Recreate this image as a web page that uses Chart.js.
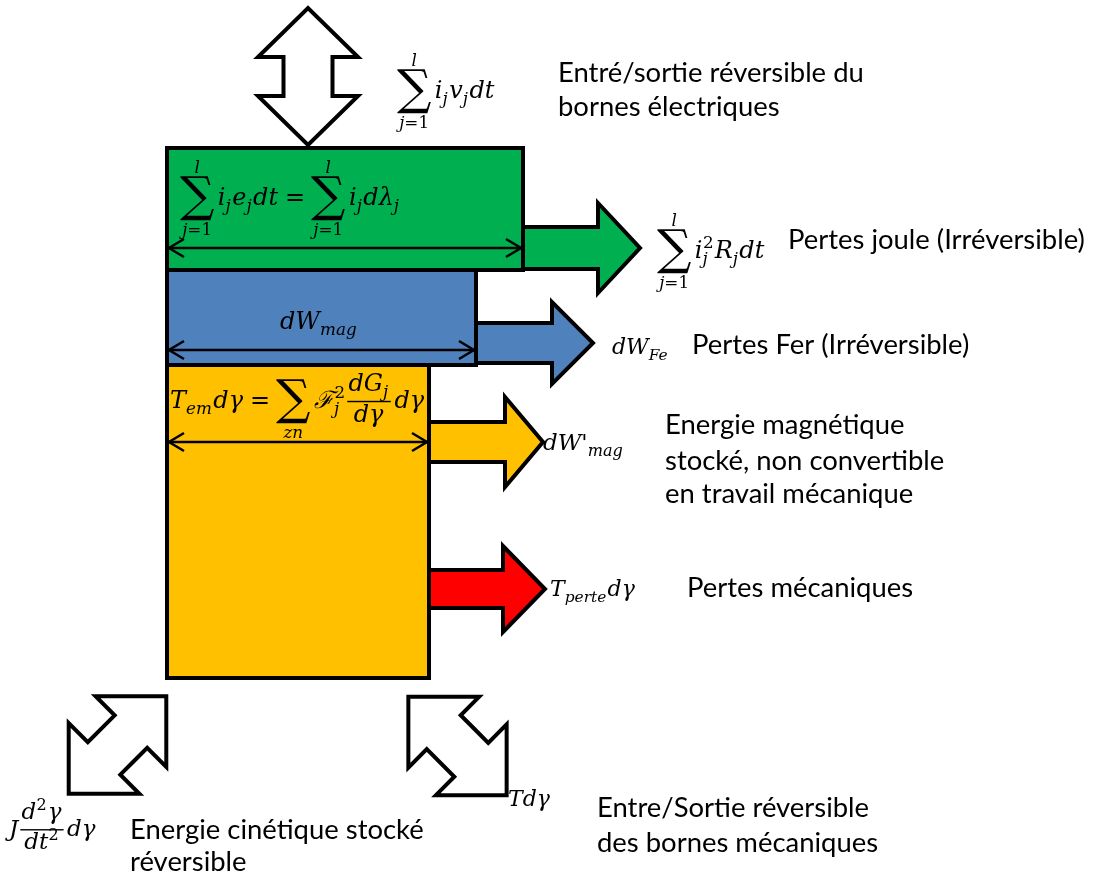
<!DOCTYPE html>
<html><head><meta charset="utf-8">
<script src="https://cdn.jsdelivr.net/npm/chart.js@4/dist/chart.umd.min.js"></script>
<style>html,body{margin:0;padding:0;background:#fff;overflow:hidden}canvas{display:block}</style>
</head><body>
<canvas id="c" width="1100" height="874" style="width:1100px;height:874px"></canvas>
<script>
// ---------- data (diagram units) ----------
const boxNames   = ['Pertes joule', 'Energie magnétique', 'Energie mécanique'];
const boxLeft    = [167, 167, 167];
const boxRight   = [523, 476, 429];
const boxTop     = [148, 270, 365];
const boxBottom  = [270, 365, 678];
const dimLineY   = [248, 350, 442];

const flowNames     = ['joule', 'fer', 'magnétique stockée', 'mécanique'];
const flowStart     = [523, 476, 429, 429];
const flowTip       = [640, 593, 543, 545];
const flowY         = [248, 343, 442, 589];
const flowShaftHalf = [21, 20, 20, 19];
const flowHeadHalf  = [45, 41, 45, 43];
const flowHeadLen   = [42, 41, 38, 42];

const portNames     = ['électrique', 'cinétique', 'mécanique'];
const portCx        = [308, 117.5, 457.5];
const portCy        = [76.5, 745, 746];
const portAngle     = [90, 45, 135];
const portHalfLen   = [68.5, 69, 69.5];
const portShaftHalf = [24.5, 23, 24];
const portHeadHalf  = [50, 50, 50];
const portHeadLen   = [49, 50, 50];

const descLines = [
  ['Entré/sortie réversible du', 'bornes électriques'],
  ['Pertes joule (Irréversible)'],
  ['Pertes Fer (Irréversible)'],
  ['Energie magnétique', 'stocké, non convertible', 'en travail mécanique'],
  ['Pertes mécaniques'],
  ['Entre/Sortie réversible', 'des bornes mécaniques'],
  ['Energie cinétique stocké', 'réversible']
];

const formulaTop   = [{sum:1, over:'l', under:'j=1'}, {b:'i', sub:'j'}, {b:'v', sub:'j'}, {b:'dt'}];
const formulaGreen = [{sum:1, over:'l', under:'j=1'}, {b:'i', sub:'j'}, {b:'e', sub:'j'}, {b:'dt'}, {op:'='},
                      {sum:1, over:'l', under:'j=1'}, {b:'i', sub:'j'}, {b:'dλ', sub:'j'}];
const formulaJoule = [{sum:1, over:'l', under:'j=1'}, {b:'i', sub:'j', sup:'2'}, {b:'R', sub:'j'}, {b:'dt'}];
const formulaMag   = [{b:'dW', sub:'mag'}];
const formulaFe    = [{b:'dW', sub:'Fe'}];
const formulaEm    = [{b:'T', sub:'em'}, {b:'dγ'}, {op:'='}, {sum:1, under:'zn'}, {b:'ℱ', sub:'j', sup:'2'},
                      {frac:[[{b:'dG', sub:'j'}], [{b:'dγ'}]]}, {b:'dγ'}];
const formulaMagP  = [{b:"dW'", sub:'mag'}];
const formulaPerte = [{b:'T', sub:'perte'}, {b:'dγ'}];
const formulaT     = [{b:'Tdγ'}];
const formulaJ     = [{b:'J'}, {frac:[[{b:'d', sup:'2'}, {b:'γ'}], [{b:'dt', sup:'2'}]]}, {b:'dγ'}];

// ---------- layout / style ----------
const boxColors  = ['#00B050', '#4F81BD', '#FFC000'];
const flowColors = ['#00B050', '#4F81BD', '#FFC000', '#FF0000'];
const descPos = [
  [[558, 73], [558, 107]],
  [[788, 240]],
  [[692, 345]],
  [[665, 425], [665, 461], [665, 494]],
  [[687, 588]],
  [[597, 808], [597, 843]],
  [[130, 830], [130, 862]]
];
const formulaPlace = [
  {f: formulaTop,   x: 397, y: 98,  size: 24},
  {f: formulaGreen, x: 180, y: 205, size: 24},
  {f: formulaJoule, x: 657, y: 258, size: 24},
  {f: formulaMag,   x: 319, y: 329, size: 24, center: true},
  {f: formulaFe,    x: 612, y: 354, size: 22},
  {f: formulaEm,    x: 170, y: 408, size: 24},
  {f: formulaMagP,  x: 543, y: 450, size: 23},
  {f: formulaPerte, x: 550, y: 596, size: 22},
  {f: formulaT,     x: 508, y: 806, size: 22},
  {f: formulaJ,     x: 9,   y: 836, size: 23}
];

// ---------- geometry builders ----------
function boxPoly(i) {
  const l = boxLeft[i], r = boxRight[i], t = boxTop[i], b = boxBottom[i], m = (t + b) / 2;
  return [{x:l,y:m},{x:l,y:t},{x:r,y:t},{x:r,y:b},{x:l,y:b},{x:l,y:m}];
}
function flowPoly(i) {
  const x0 = flowStart[i], xt = flowTip[i], y = flowY[i], s = flowShaftHalf[i], h = flowHeadHalf[i], hb = xt - flowHeadLen[i];
  return [{x:x0,y:y},{x:x0,y:y-s},{x:hb,y:y-s},{x:hb,y:y-h},{x:xt,y:y},{x:hb,y:y+h},{x:hb,y:y+s},{x:x0,y:y+s},{x:x0,y:y}];
}
function portPoly(i) {
  const a = portAngle[i] * Math.PI / 180;
  const u = {x: Math.cos(a), y: -Math.sin(a)}, v = {x: -u.y, y: u.x};
  const L = portHalfLen[i], H = portHeadLen[i], s = portShaftHalf[i], h = portHeadHalf[i], B = L - H;
  const loc = [[0,s],[B,s],[B,h],[L,0],[B,-h],[B,-s],[-B,-s],[-B,-h],[-L,0],[-B,h],[-B,s],[0,s]];
  return loc.map(([p, q]) => ({x: portCx[i] + p*u.x + q*v.x, y: portCy[i] + p*u.y + q*v.y}));
}

const datasets = [];
function poly(data, fillColor, bw) {
  datasets.push({data, borderColor:'#000', borderWidth: bw, backgroundColor: fillColor,
    fill: fillColor ? 'shape' : false, pointRadius: 0, tension: 0,
    borderJoinStyle: 'miter', borderCapStyle: 'butt', clip: false});
}
boxNames.forEach((n, i) => poly(boxPoly(i), boxColors[i], 4));
flowNames.forEach((n, i) => poly(flowPoly(i), flowColors[i], 4));
portNames.forEach((n, i) => poly(portPoly(i), '#FFFFFF', 4));
boxNames.forEach((n, i) => {
  const y = dimLineY[i], l = boxLeft[i] + 2, r = boxRight[i] - 2;
  poly([{x:l,y:y},{x:r,y:y}], null, 2.5);
  poly([{x:l+15,y:y-9},{x:l,y:y},{x:l+15,y:y+9}], null, 2.5);
  poly([{x:r-15,y:y-9},{x:r,y:y},{x:r-15,y:y+9}], null, 2.5);
});
datasets.forEach((d, i) => d.order = datasets.length - i);

// ---------- math text renderer ----------
const MATH_FAMILY = '"DejaVu Serif", "Liberation Serif", serif';
function isItalic(ch) { return /[A-Za-zα-ωℱ]/.test(ch); }
function drawStr(ctx, s, x, y, size, draw) {
  let w = 0; const runs = [];
  for (const ch of s) { const it = isItalic(ch);
    if (runs.length && runs[runs.length-1].it === it) runs[runs.length-1].t += ch; else runs.push({t: ch, it}); }
  for (const r of runs) {
    ctx.font = (r.it ? 'italic ' : '') + size + 'px ' + MATH_FAMILY;
    if (draw) ctx.fillText(r.t, x + w, y);
    w += ctx.measureText(r.t).width;
  }
  return w;
}
function layoutItems(ctx, items, x, y, size, draw) {
  let cx = x;
  for (const it of items) {
    if (it.sum) {
      const H = 1.85 * size, yc = y - 0.27 * size;
      ctx.font = '100px ' + MATH_FAMILY;
      const m = ctx.measureText('∑');
      const asc = m.actualBoundingBoxAscent, desc = m.actualBoundingBoxDescent;
      const k = H / (asc + desc);
      const gl = m.actualBoundingBoxLeft * k, gw = (m.actualBoundingBoxLeft + m.actualBoundingBoxRight) * k;
      if (draw) { ctx.font = (100 * k) + 'px ' + MATH_FAMILY; ctx.fillText('∑', cx + gl, yc - H / 2 + asc * k); }
      const ss = size * 0.7;
      if (it.over) { const w = drawStr(ctx, it.over, 0, 0, ss, false); if (draw) drawStr(ctx, it.over, cx + gw/2 - w/2, yc - H/2 - 0.15*size, ss, true); }
      if (it.under) { const w = drawStr(ctx, it.under, 0, 0, ss, false); if (draw) drawStr(ctx, it.under, cx + gw/2 - w/2, yc + H/2 + 0.6*size, ss, true); }
      cx += gw + 0.15 * size;
    } else if (it.op) {
      cx += 0.25 * size; cx += drawStr(ctx, it.op, cx, y, size, draw); cx += 0.25 * size;
    } else if (it.frac) {
      const wn = layoutItems(ctx, it.frac[0], 0, 0, size, false), wd = layoutItems(ctx, it.frac[1], 0, 0, size, false);
      const w = Math.max(wn, wd) + 0.2 * size, ly = y - 0.27 * size;
      if (draw) {
        layoutItems(ctx, it.frac[0], cx + (w - wn) / 2, ly - 0.45 * size, size, true);
        layoutItems(ctx, it.frac[1], cx + (w - wd) / 2, ly + 0.85 * size, size, true);
        ctx.fillRect(cx + 0.05 * size, ly - 0.03 * size, w - 0.1 * size, Math.max(1.2, 0.06 * size));
      }
      cx += w + 0.1 * size;
    } else {
      cx += drawStr(ctx, it.b, cx, y, size, draw);
      const ss = size * 0.7; let ws = 0;
      if (it.sup) ws = Math.max(ws, drawStr(ctx, it.sup, cx + 0.02 * size, y - 0.42 * size, ss, draw));
      if (it.sub) ws = Math.max(ws, drawStr(ctx, it.sub, cx, y + 0.25 * size, ss, draw));
      cx += ws + (ws ? 0.06 : 0.04) * size;
    }
  }
  return cx - x;
}

const textPlugin = {
  id: 'diagramText',
  afterDatasetsDraw(chart) {
    const ctx = chart.ctx, xs = chart.scales.x, ys = chart.scales.y;
    ctx.save();
    ctx.fillStyle = '#000';
    const fam = 'Lato, "Open Sans", sans-serif';
    ctx.font = '100px ' + fam;
    const labelSize = 297 / ctx.measureText('Pertes joule (Irréversible)').width * 100;
    ctx.font = labelSize + 'px ' + fam;
    ctx.textAlign = 'left'; ctx.textBaseline = 'middle';
    descLines.forEach((lines, i) => lines.forEach((t, j) => {
      ctx.fillText(t, xs.getPixelForValue(descPos[i][j][0]), ys.getPixelForValue(descPos[i][j][1]));
    }));
    ctx.textBaseline = 'alphabetic';
    formulaPlace.forEach(p => {
      let x = xs.getPixelForValue(p.x); const y = ys.getPixelForValue(p.y);
      if (p.center) x -= layoutItems(ctx, p.f, 0, 0, p.size, false) / 2;
      layoutItems(ctx, p.f, x, y, p.size, true);
    });
    ctx.restore();
  }
};

new Chart(document.getElementById('c').getContext('2d'), {
  type: 'line',
  data: {datasets},
  options: {
    responsive: false, devicePixelRatio: 1, animation: false, events: [],
    layout: {padding: 0},
    plugins: {legend: {display: false}, tooltip: {enabled: false}},
    scales: {
      x: {type: 'linear', min: 0, max: 1100, display: false},
      y: {type: 'linear', min: 0, max: 874, reverse: true, display: false}
    }
  },
  plugins: [textPlugin]
});
</script>
</body></html>
